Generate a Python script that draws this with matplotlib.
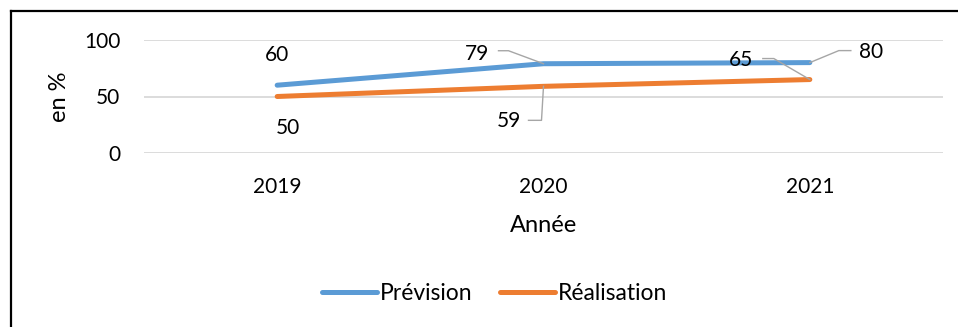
import matplotlib as mpl
import matplotlib.pyplot as plt
from matplotlib.lines import Line2D

mpl.rcParams.update({
    "font.family": ["Lato", "DejaVu Sans"],
    "font.size": 15,
})

# ----- data -----
years = ["2019", "2020", "2021"]
prevision = [60, 79, 80]
realisation = [50, 59, 65]
yticks = [0, 50, 100]

# label placement (pixel offsets from the point) and leader vertices
prev_offsets = [(0, 30), (-66, 10), (61, 11)]
prev_leaders = [None, [(-45, 13), (-35, 13), (0, 0)], [(0, 0), (29, 12), (41, 12)]]
real_offsets = [(11, -32), (-35, -35), (-69, 20)]
real_leaders = [None, [(-15, -34), (-2, -34), (0, 0)], [(-47, 21), (-36, 21), (0, 0)]]

BLUE = "#5B9BD5"
ORANGE = "#ED7D31"
GRID = "#D9D9D9"
W, H = 958, 327

fig = plt.figure(figsize=(W / 100, H / 100), dpi=100)
ax = fig.add_axes([144 / W, 1 - 153 / H, (943 - 144) / W, (153 - 40) / H])

x = range(len(years))
ax.plot(x, prevision, color=BLUE, lw=3.6, solid_capstyle="round", label="Prévision", zorder=3)
ax.plot(x, realisation, color=ORANGE, lw=3.6, solid_capstyle="round", label="Réalisation", zorder=3)

ax.set_xlim(-0.5, len(years) - 0.5)
ax.set_ylim(0, 100)
ax.set_yticks(yticks)
ax.set_xticks(list(x))
ax.set_xticklabels(years)
ax.tick_params(length=0, labelsize=15)
ax.tick_params(axis="y", pad=17)
ax.tick_params(axis="x", pad=17.5)
for s in ax.spines.values():
    s.set_visible(False)
for v in yticks:
    ax.axhline(v, color=GRID, lw=1.3, zorder=1)

ax.set_xlabel("Année", labelpad=13, fontsize=17)
ax.set_ylabel("en %", labelpad=10, fontsize=17)


def add_labels(values, offsets, leaders):
    for i, (v, off, lead) in enumerate(zip(values, offsets, leaders)):
        ax.annotate(str(v), (i, v), xytext=off, textcoords="offset pixels",
                    ha="center", va="center", fontsize=15)
        if lead:
            px, py = ax.transData.transform((i, v))
            xs = [px + dx for dx, dy in lead]
            ys = [py + dy for dx, dy in lead]
            fig.add_artist(Line2D(xs, ys, transform=None, color="#A6A6A6", lw=1.0))


add_labels(prevision, prev_offsets, prev_leaders)
add_labels(realisation, real_offsets, real_leaders)

fig.legend(loc="center", bbox_to_anchor=(495 / W, 1 - 294 / H), ncol=2,
           frameon=False, handlelength=2.4, handletextpad=0.13, columnspacing=1.2,
           fontsize=16.5)

# chart border (top and left visible)
fig.add_artist(Line2D([11, W], [H - 11, H - 11], transform=None, color="black", lw=1.6))
fig.add_artist(Line2D([11, 11], [H - 11, 0], transform=None, color="black", lw=1.6))

fig.savefig("out.png", dpi=100)
